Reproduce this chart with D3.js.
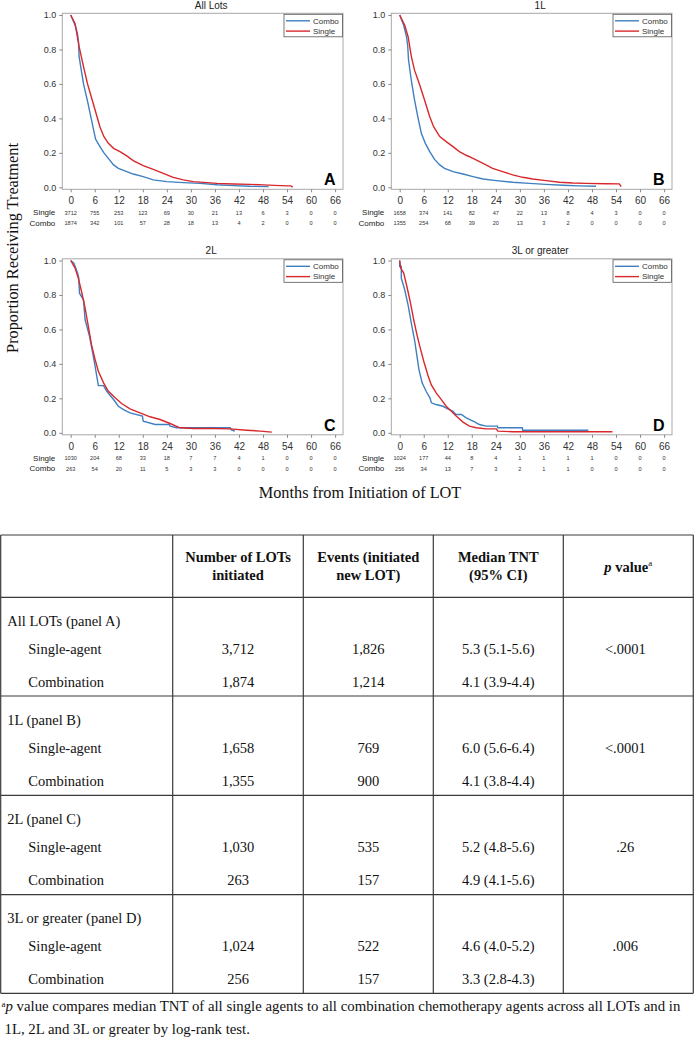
<!DOCTYPE html>
<html><head><meta charset="utf-8">
<script src="https://cdn.jsdelivr.net/npm/d3@7"></script>
<style>
html,body{margin:0;padding:0;background:#fff;}
svg{display:block;}
</style></head>
<body>
<script>
// ---------------- DATA ----------------
const months = [0,6,12,18,24,30,36,42,48,54,60,66];
const yTicks = [0,0.2,0.4,0.6,0.8,1.0];
const panelTitles = ["All Lots","1L","2L","3L or greater"];
const panelLetters = ["A","B","C","D"];
const seriesNames = ["Combo","Single"];

// Kaplan-Meier curves: [month, proportion]
const aSingle = [[0,1],[1.1,0.95],[2.1,0.816],[3.2,0.7],[4.2,0.6],[5.2,0.52],[6.2,0.44],[7.3,0.35],[8.3,0.294],[9.4,0.255],[10.7,0.226],[12.3,0.207],[14,0.182],[15.6,0.155],[18.1,0.126],[20.6,0.104],[23.1,0.081],[25.6,0.058],[28.1,0.043],[30.6,0.033],[34,0.027],[36.5,0.023],[40.6,0.019],[44.8,0.017],[48.1,0.014],[52.3,0.01],[55,0.008],[55.4,0.001]];
const aCombo = [[0,1],[1.1,0.94],[1.7,0.89],[1.95,0.84],[2.1,0.76],[2.5,0.70],[3.2,0.6],[4.2,0.5],[5.2,0.39],[6.2,0.28],[7.3,0.236],[8.3,0.2],[9.4,0.168],[10.7,0.13],[11.9,0.11],[14,0.091],[15.6,0.077],[18.1,0.062],[20.6,0.043],[24,0.033],[28.1,0.027],[32.3,0.023],[36.5,0.015],[40.6,0.01],[44.8,0.006],[49.4,0.004]];
const bSingle = [[0,1],[1.25,0.94],[2.1,0.874],[2.9,0.76],[3.7,0.68],[5,0.594],[6.2,0.507],[7.5,0.41],[8.5,0.35],[10,0.294],[11.6,0.265],[13.3,0.236],[14.9,0.207],[16.6,0.186],[18.3,0.168],[20.8,0.139],[23.2,0.11],[25.7,0.091],[28.2,0.072],[30.7,0.058],[33.2,0.048],[36.5,0.039],[39.9,0.029],[43.2,0.025],[46.5,0.023],[51.5,0.021],[54.8,0.02],[55.3,0.004]];
const bCombo = [[0,1],[1,0.94],[1.7,0.874],[2.0,0.82],[2.2,0.74],[2.9,0.62],[3.7,0.507],[4.6,0.4],[5.4,0.313],[6.4,0.255],[7.5,0.207],[8.7,0.162],[10,0.13],[11.2,0.11],[13.3,0.091],[15.8,0.077],[18.3,0.062],[20.8,0.048],[24.1,0.039],[28.2,0.029],[32.4,0.023],[36.5,0.017],[40.7,0.012],[44.8,0.008],[49,0.006]];
const cSingle = [[0,1],[1.1,0.956],[1.9,0.898],[2.7,0.82],[3.6,0.724],[4.4,0.618],[5.2,0.51],[6.1,0.425],[6.9,0.357],[8.2,0.29],[9.4,0.241],[11.1,0.203],[12.7,0.17],[14.8,0.139],[17.3,0.116],[19.8,0.093],[22.3,0.077],[24.8,0.054],[27.3,0.029],[30.6,0.025],[35.6,0.025],[39.8,0.023],[43.9,0.015],[47.3,0.01],[50.2,0.004]];
const cCombo = [[0,1],[0.8,0.985],[1.7,0.927],[2.0,0.9],[2.2,0.81],[3.2,0.772],[3.6,0.656],[4.7,0.56],[5.5,0.463],[6.1,0.386],[6.9,0.274],[8.2,0.274],[9,0.241],[10.7,0.193],[11.9,0.154],[13.2,0.135],[14.8,0.116],[17.9,0.097],[18.1,0.068],[21.1,0.048],[24.6,0.048],[24.8,0.039],[26.5,0.029],[39.8,0.029],[40.2,0.015],[41,0.01]];
const dSingle = [[0,1],[0.25,0.956],[1,0.927],[1.8,0.849],[2.7,0.753],[3.5,0.656],[4.3,0.57],[5.1,0.494],[6,0.415],[7.1,0.33],[7.9,0.278],[9.1,0.232],[10.4,0.193],[11.6,0.154],[12.9,0.125],[14.1,0.097],[15.8,0.062],[17.4,0.039],[19.1,0.029],[21.6,0.023],[24.1,0.023],[24.5,0.01],[28.2,0.006],[53.1,0.006]];
const dCombo = [[0,1],[0,0.965],[0.4,0.965],[0.4,0.897],[1.25,0.83],[2.1,0.741],[2.9,0.637],[3.7,0.54],[4.2,0.463],[4.8,0.367],[5.6,0.29],[6.6,0.241],[7.6,0.2],[7.9,0.174],[9.1,0.164],[10.8,0.154],[12,0.139],[13.3,0.125],[14,0.106],[15.4,0.106],[16.6,0.087],[18.7,0.064],[19.9,0.048],[21.6,0.039],[24.4,0.039],[24.5,0.029],[30.6,0.029],[30.7,0.015],[47.1,0.015]];

// Number at risk
const aRiskSingle = [3712,755,253,123,69,30,21,13,6,3,0,0];
const aRiskCombo  = [1874,342,101,57,28,18,13,4,2,0,0,0];
const bRiskSingle = [1658,374,141,82,47,22,13,8,4,3,0,0];
const bRiskCombo  = [1355,254,68,39,20,13,3,2,0,0,0,0];
const cRiskSingle = [1030,204,68,33,18,7,7,4,1,0,0,0];
const cRiskCombo  = [263,54,20,11,5,3,3,0,0,0,0,0];
const dRiskSingle = [1024,177,44,8,4,1,1,1,1,0,0,0];
const dRiskCombo  = [256,34,13,7,3,2,1,1,0,0,0,0];

// Table
const tableHeader = [["",""],["Number of LOTs","initiated"],["Events (initiated","new LOT)"],["Median TNT","(95% CI)"]];
const groupLabels = ["All LOTs (panel A)","1L (panel B)","2L (panel C)","3L or greater (panel D)"];
const rowLabels = ["Single-agent","Combination"];
const nInitiatedSingle = ["3,712","1,658","1,030","1,024"];
const nInitiatedCombo  = ["1,874","1,355","263","256"];
const eventsSingle = ["1,826","769","535","522"];
const eventsCombo  = ["1,214","900","157","157"];
const medianSingle = ["5.3 (5.1-5.6)","6.0 (5.6-6.4)","5.2 (4.8-5.6)","4.6 (4.0-5.2)"];
const medianCombo  = ["4.1 (3.9-4.4)","4.1 (3.8-4.4)","4.9 (4.1-5.6)","3.3 (2.8-4.3)"];
const pValues = ["<.0001","<.0001",".26",".006"];
const footLine1 = " value compares median TNT of all single agents to all combination chemotherapy agents across all LOTs and in";
const footLine2 = "1L, 2L and 3L or greater by log-rank test.";

// ---------------- DRAW ----------------
const W = 694, H = 1037;
const SANS = "'Liberation Sans', Arial, Helvetica, sans-serif";
const SERIF = "'Liberation Serif', 'Times New Roman', Times, serif";
const BLUE = "#3f7fc0", RED = "#d8282c";

const svg = d3.select("body").append("svg").attr("width", W).attr("height", H);

const panels = [
  {single:aSingle, combo:aCombo, rs:aRiskSingle, rc:aRiskCombo, left:62.3, top:13.3},
  {single:bSingle, combo:bCombo, rs:bRiskSingle, rc:bRiskCombo, left:391.3, top:13.3},
  {single:cSingle, combo:cCombo, rs:cRiskSingle, rc:cRiskCombo, left:62.3, top:258.8},
  {single:dSingle, combo:dCombo, rs:dRiskSingle, rc:dRiskCombo, left:391.3, top:258.8}
];

panels.forEach((p, i) => {
  const fw = 280.7, fh = 176;
  const g = svg.append("g");
  const x = d3.scaleLinear().domain([0,66]).range([p.left + 8.4, p.left + 8.4 + 264.4]);
  const y = d3.scaleLinear().domain([0,1]).range([p.top + 174, p.top + 1.7]);
  const bottom = p.top + fh;

  // title
  g.append("text").attr("x", p.left + fw/2 + 8.5).attr("y", p.top - 4.6)
    .attr("text-anchor","middle").attr("font-family",SANS).attr("font-size",10).attr("fill","#222")
    .text(panelTitles[i]);

  // frame
  g.append("rect").attr("x", p.left).attr("y", p.top).attr("width", fw).attr("height", fh)
    .attr("fill","none").attr("stroke","#a8a8a8").attr("stroke-width",1);

  // y axis
  const ya = g.append("g").attr("transform",`translate(${p.left},0)`)
    .call(d3.axisLeft(y).tickValues(yTicks).tickSize(3).tickPadding(3).tickFormat(d3.format(".1f")));
  ya.select(".domain").remove();
  ya.selectAll("line").attr("stroke","#888");
  ya.selectAll("text").attr("font-family",SANS).attr("font-size",9).attr("fill","#333");

  // x axis
  const xa = g.append("g").attr("transform",`translate(0,${bottom})`)
    .call(d3.axisBottom(x).tickValues(months).tickSize(3).tickPadding(5).tickFormat(d3.format("d")));
  xa.select(".domain").remove();
  xa.selectAll("line").attr("stroke","#888");
  xa.selectAll("text").attr("font-family",SANS).attr("font-size",10).attr("fill","#333");

  // curves
  const line = d3.line().x(d => x(d[0])).y(d => y(d[1])).curve(d3.curveLinear);
  g.append("path").datum(p.combo).attr("d", line).attr("fill","none").attr("stroke",BLUE).attr("stroke-width",1.4);
  g.append("path").datum(p.single).attr("d", line).attr("fill","none").attr("stroke",RED).attr("stroke-width",1.4);

  // panel letter
  g.append("text").attr("x", x(66) + 0.5).attr("y", y(0) - 2.3).attr("text-anchor","end")
    .attr("font-family",SANS).attr("font-weight","bold").attr("font-size",16).attr("fill","#000")
    .text(panelLetters[i]);

  // legend
  const lx = p.left + fw - 59, ly = p.top + 1;
  g.append("rect").attr("x", lx).attr("y", ly).attr("width", 58.5).attr("height", 22.5)
    .attr("fill","#fff").attr("stroke","#555").attr("stroke-width",0.8);
  [["Combo",BLUE],["Single",RED]].forEach((s, k) => {
    const yy = ly + 6.5 + k*10.3;
    g.append("line").attr("x1", lx + 2).attr("x2", lx + 26).attr("y1", yy).attr("y2", yy)
      .attr("stroke", s[1]).attr("stroke-width",1.4);
    g.append("text").attr("x", lx + 29).attr("y", yy + 2.8).attr("font-family",SANS).attr("font-size",8)
      .attr("fill","#333").text(s[0]);
  });

  // risk table
  const rows = [["Single", p.rs, bottom + 25.8], ["Combo", p.rc, bottom + 36.4]];
  rows.forEach(r => {
    g.append("text").attr("x", p.left - 7).attr("y", r[2]).attr("text-anchor","end")
      .attr("font-family",SANS).attr("font-size",8).attr("fill","#222").text(r[0]);
    g.selectAll(null).data(r[1]).join("text")
      .attr("x", (d, j) => x(months[j])).attr("y", r[2] - 0.5).attr("text-anchor","middle")
      .attr("font-family",SANS).attr("font-size",5.6).attr("fill","#333").text(d => d);
  });
});

// axis titles
svg.append("text").attr("transform","translate(18,248) rotate(-90)").attr("text-anchor","middle")
  .attr("font-family",SERIF).attr("font-size",16.3).attr("fill","#111").text("Proportion Receiving Treatment");
svg.append("text").attr("x",360).attr("y",498).attr("text-anchor","middle")
  .attr("font-family",SERIF).attr("font-size",16.3).attr("fill","#111").text("Months from Initiation of LOT");

// ---------------- TABLE ----------------
const colX = [0.7,172.7,303.3,433.3,563.3,693.3];
const rowY = [535,597.3,696,795.3,894.7,993.3];
const colC = d3.range(5).map(k => (colX[k] + colX[k+1]) / 2);
const tg = svg.append("g").attr("font-family",SERIF).attr("fill","#111");
const LC = "#3a3a3a";

// borders
tg.selectAll(null).data(rowY).join("line").attr("x1",colX[0]).attr("x2",colX[5])
  .attr("y1",d=>d).attr("y2",d=>d).attr("stroke",LC).attr("stroke-width",1.2);
tg.selectAll(null).data(colX).join("line").attr("x1",d=>d).attr("x2",d=>d)
  .attr("y1",rowY[0]).attr("y2",rowY[5]).attr("stroke",LC).attr("stroke-width",1.2);

// header
tableHeader.forEach((h, k) => {
  if (!h[0]) return;
  [h[0], h[1]].forEach((t, m) => {
    tg.append("text").attr("x", colC[k]).attr("y", 557.3 + m*17.7).attr("dy","0.35em")
      .attr("text-anchor","middle").attr("font-weight","bold").attr("font-size",14.5).text(t);
  });
});
const pv = tg.append("text").attr("x", colC[4]).attr("y", 566.7).attr("dy","0.35em")
  .attr("text-anchor","middle").attr("font-weight","bold").attr("font-size",14.5);
pv.append("tspan").attr("font-style","italic").text("p");
pv.append("tspan").text(" value");
pv.append("tspan").attr("font-size",9).attr("dy","-0.6em").attr("font-weight","normal").text("a");

// body
groupLabels.forEach((gl, i) => {
  const top = rowY[i+1];
  const fs = 14.5;
  tg.append("text").attr("x", 7.3).attr("y", top + 23.5).attr("dy","0.35em").attr("font-size",fs).text(gl);
  const ys = top + 51.5, yc = top + 84.5;
  tg.append("text").attr("x", 28.3).attr("y", ys).attr("dy","0.35em").attr("font-size",fs).text(rowLabels[0]);
  tg.append("text").attr("x", 28.3).attr("y", yc).attr("dy","0.35em").attr("font-size",fs).text(rowLabels[1]);
  [[nInitiatedSingle[i], nInitiatedCombo[i]], [eventsSingle[i], eventsCombo[i]], [medianSingle[i], medianCombo[i]]]
    .forEach((pair, k) => {
      tg.append("text").attr("x", colC[k+1]).attr("y", ys).attr("dy","0.35em").attr("text-anchor","middle").attr("font-size",fs).text(pair[0]);
      tg.append("text").attr("x", colC[k+1]).attr("y", yc).attr("dy","0.35em").attr("text-anchor","middle").attr("font-size",fs).text(pair[1]);
    });
  tg.append("text").attr("x", colC[4] - 3).attr("y", ys).attr("dy","0.35em").attr("text-anchor","middle").attr("font-size",fs).text(pValues[i]);
});

// footnote
const f1 = tg.append("text").attr("x", 1.5).attr("y", 1009.5).attr("dy","0.35em").attr("font-size",14.8);
f1.append("tspan").attr("font-size",9).attr("dy","-0.3em").text("a");
f1.append("tspan").attr("font-style","italic").attr("dy","0.3em").text("p");
f1.append("tspan").text(footLine1);
tg.append("text").attr("x", 4.5).attr("y", 1028.8).attr("dy","0.35em").attr("font-size",14.8).text(footLine2);
</script>
</body></html>
